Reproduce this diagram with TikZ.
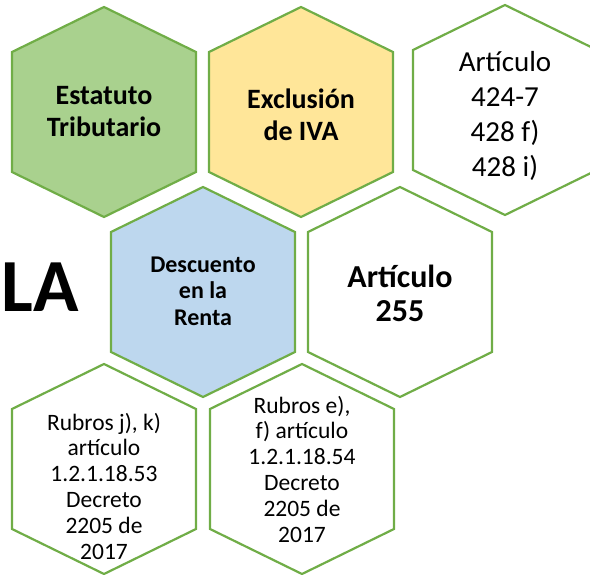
\documentclass[tikz,border=0pt]{standalone}
\usepackage{fontspec}
\setmainfont{Carlito}
\definecolor{verde}{HTML}{A9D18E}
\definecolor{amarillo}{HTML}{FFE699}
\definecolor{azul}{HTML}{BDD7EE}
\definecolor{borde}{HTML}{70AD47}

\begin{document}
\begin{tikzpicture}[x=1pt, y=-1pt,
    hexa/.style={draw=borde, line width=2.2pt, line join=miter},
    titulo/.style={font=\bfseries\fontsize{28}{32}\selectfont, align=center},
    texto/.style={font=\fontsize{23.5}{25.8}\selectfont, align=center}]
  \useasboundingbox (0,0) rectangle (590,575);
  \clip (0,0) rectangle (590,575);
  % panal de hexagonos
  \foreach \n/\pos/\col in {estatuto/{104,112}/verde, exclusion/{301,112}/amarillo,
      art424/{505,110}/white, descuento/{203,292}/azul, art255/{400,292}/white,
      rubrosjk/{104,469}/white, rubrosef/{302,469}/white}
    \draw[hexa, fill=\col] (\pos) coordinate (\n) ++(0,-105) -- ++(92,45) -- ++(0,120)
      -- ++(-92,45) -- ++(-92,-45) -- ++(0,-120) -- cycle;

  \node[titulo] (t-estatuto) at (estatuto) {Estatuto\\Tributario};
  \node[titulo] (t-exclusion) at ([yshift=-3pt]exclusion) {Exclusión\\de IVA};
  \node[font=\fontsize{29}{35}\selectfont, align=center] (t-art424) at ([yshift=-6pt]art424)
    {Artículo\\424-7\\428 f)\\428 i)};
  \node[font=\bfseries\fontsize{24}{26.5}\selectfont, align=center] (t-descuento) at ([yshift=1pt]descuento)
    {Descuento\\en la\\Renta};
  \node[font=\bfseries\fontsize{32}{34}\selectfont, align=center] (t-art255) at ([yshift=-1pt]art255)
    {Artículo\\255};
  \node[texto] (t-rubrosjk) at ([yshift=-17pt]rubrosjk)
    {Rubros j), k)\\artículo\\1.2.1.18.53\\Decreto\\2205 de\\2017};
  \node[texto] (t-rubrosef) at (rubrosef)
    {Rubros e),\\f) artículo\\1.2.1.18.54\\Decreto\\2205 de\\2017};
  \node[font=\bfseries\fontsize{75}{75}\selectfont] (la) at (40,287) {LA};
\end{tikzpicture}
\end{document}
